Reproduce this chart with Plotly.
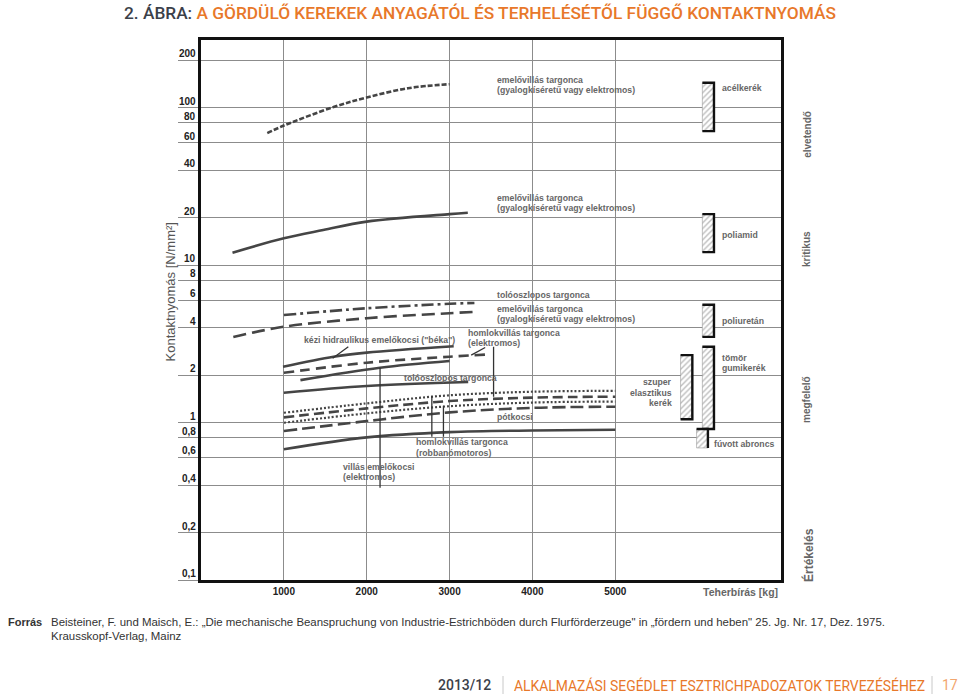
import math
import plotly.graph_objects as go

# ---------------- data ----------------
# curves: load capacity [kg] vs contact pressure [N/mm2]
c1_x = [800, 1000, 1600, 2000, 2500, 3000]
c1_y = [69, 77, 101, 116, 133, 141]          # emelővillás targonca (acélkerék)
c2_x = [380, 1000, 1475, 2000, 3000, 3220]
c2_y = [12.0, 14.8, 16.7, 18.9, 21.1, 21.5]  # emelővillás targonca (poliamid)
c3_x = [1000, 2000, 3000, 3300]
c3_y = [4.82, 5.32, 5.68, 5.75]              # tolóoszlopos targonca
c4_x = [390, 1000, 2000, 3000, 3300]
c4_y = [3.5, 4.06, 4.6, 4.95, 5.05]          # emelővillás targonca (poliuretán)
c5_x = [990, 1600, 2000, 3050]
c5_y = [2.26, 2.62, 2.78, 3.05]              # kézi hidraulikus emelőkocsi
c6_x = [1000, 2000, 3000, 3430]
c6_y = [2.07, 2.40, 2.62, 2.70]              # homlokvillás targonca (elektromos)
c7_x = [1200, 2160, 3000]
c7_y = [1.86, 2.23, 2.46]                    # villás emelőkocsi (elektromos)
c8_x = [1000, 2000, 3225]
c8_y = [1.546, 1.706, 1.81]                  # tolóoszlopos targonca
c9_x = [1000, 2000, 3000, 4000, 5000]
c9_y = [1.154, 1.324, 1.49, 1.57, 1.59]      # homlokvillás (robbanómotoros)
c10_x = [1000, 2000, 3000, 4000, 5000]
c10_y = [1.079, 1.23, 1.37, 1.44, 1.46]      # homlokvillás (elektromos)
c11_x = [1000, 2000, 3000, 4000, 5000]
c11_y = [0.997, 1.144, 1.27, 1.34, 1.36]     # homlokvillás (robbanómotoros)
c12_x = [1000, 2000, 3000, 4000, 5000]
c12_y = [0.883, 1.022, 1.16, 1.24, 1.26]     # pótkocsi
c13_x = [1000, 2000, 3000, 4000, 5000]
c13_y = [0.676, 0.805, 0.87, 0.89, 0.90]     # homlokvillás (robbanómotoros)

# wheel material pressure ranges [N/mm2]
mat_names = ["acélkerék", "poliamid", "poliuretán", "tömör gumikerék",
             "szuper elasztikus kerék", "fúvott abroncs"]
mat_low = [71, 12.1, 3.5, 0.91, 1.05, 0.69]
mat_high = [144, 21.1, 5.6, 3.03, 2.68, 0.91]

y_tick_vals = [200, 100, 80, 60, 40, 20, 10, 8, 6, 4, 2, 1, 0.8, 0.6, 0.4, 0.2, 0.1]
y_tick_text = ["200", "100", "80", "60", "40", "20", "10", "8", "6", "4", "2", "1",
               "0,8", "0,6", "0,4", "0,2", "0,1"]
x_tick_vals = [1000, 2000, 3000, 4000, 5000]
x_tick_text = ["1000", "2000", "3000", "4000", "5000"]

# ---------------- layout helpers ----------------
W, H = 960, 698
L, R, T, B = 201, 781, 40, 580


def PX(px):
    return (px - L) / (R - L)


def PY(py):
    return (B - py) / (B - T)


LINE = "#454545"
GREY_TXT = "#666666"
FONT = "Liberation Sans, Arial, sans-serif"
LBL = 8.7

fig = go.Figure()

curve_styles = [
    (c1_x, c1_y, "5px,2px", 2.6),
    (c2_x, c2_y, "solid", 2.6),
    (c3_x, c3_y, "12px,4px,3px,4px", 2.6),
    (c4_x, c4_y, "13px,6px", 2.6),
    (c5_x, c5_y, "solid", 2.6),
    (c6_x, c6_y, "10px,6px", 2.6),
    (c7_x, c7_y, "solid", 2.6),
    (c8_x, c8_y, "solid", 2.6),
    (c9_x, c9_y, "2px,2px", 2.2),
    (c10_x, c10_y, "10px,5px", 2.6),
    (c11_x, c11_y, "2px,2px", 2.2),
    (c12_x, c12_y, "13px,5px", 2.6),
    (c13_x, c13_y, "solid", 2.6),
]
for xs, ys, dash, w in curve_styles:
    fig.add_trace(go.Scatter(x=xs, y=ys, mode="lines", line_shape="spline",
                             line=dict(color=LINE, width=w, dash=dash),
                             hoverinfo="skip", showlegend=False))

# pointer lines (label leaders)
pointers = [
    ([1778, 1589], [3.03, 2.56]),
    ([2161, 2161], [2.23, 0.385]),
    ([2786, 2786], [0.812, 1.48]),
    ([2926, 2926], [0.812, 1.278]),
    ([3531, 3531], [3.03, 1.458]),
    ([3261, 3430], [2.68, 3.0]),
]
for xs, ys in pointers:
    fig.add_trace(go.Scatter(x=xs, y=ys, mode="lines",
                             line=dict(color="#333", width=1.3),
                             hoverinfo="skip", showlegend=False))

# hatched material bars (x positions are layout only)
mat_x0 = [6051, 6051, 6051, 6051, 5788, 5981]
mat_x1 = [6191, 6191, 6191, 6191, 5930, 6118]
mat_bracket = ["rtb", "rtb", "rtb", "rtb", "rtb", "rt"]
for i in range(len(mat_names)):
    x0, x1, lo, hi = mat_x0[i], mat_x1[i], mat_low[i], mat_high[i]
    fig.add_trace(go.Scatter(
        x=[x0, x1, x1, x0, x0], y=[lo, lo, hi, hi, lo], mode="lines",
        fill="toself", fillcolor="white",
        fillpattern=dict(shape="/", fgcolor="#7a7a7a", bgcolor="white",
                         size=4, solidity=0.35),
        line=dict(color="#999", width=0.6), hoverinfo="skip", showlegend=False))
    if mat_bracket[i] == "rtb":
        bx, by = [x0, x1, x1, x0], [hi, hi, lo, lo]
    else:
        bx, by = [x0, x1, x1], [hi, hi, lo]
    fig.add_trace(go.Scatter(x=bx, y=by, mode="lines",
                             line=dict(color="#111", width=2.4),
                             hoverinfo="skip", showlegend=False))

ann = []


def txt(text, px, py, size=LBL, color=GREY_TXT, bold=True, xanchor="left",
        angle=0, family=FONT):
    ann.append(dict(text=("<b>%s</b>" % text) if bold else text,
                    x=PX(px), y=PY(py), xref="paper", yref="paper",
                    xanchor=xanchor, yanchor="middle", showarrow=False,
                    textangle=angle,
                    font=dict(size=size, color=color, family=family)))


# y tick labels (sit just above their grid lines)
for v, t in zip(y_tick_vals, y_tick_text):
    ann.append(dict(text="<b>%s</b>" % t, x=PX(197.5), y=math.log10(v),
                    xref="paper", yref="y", xanchor="right", yanchor="bottom",
                    yshift=-1, showarrow=False,
                    font=dict(size=10, color="#222", family=FONT)))

# curve labels
txt("emelővillás targonca", 495, 79.5)
txt("(gyalogkíséretű vagy elektromos)", 495, 89.5)
txt("emelővillás targonca", 495, 198.3)
txt("(gyalogkíséretű vagy elektromos)", 495, 207.7)
txt("tolóoszlopos targonca", 495, 294.7)
txt("emelővillás targonca", 495, 309.3)
txt("(gyalogkíséretű vagy elektromos)", 495, 319)
txt("homlokvillás targonca", 466, 333.3)
txt("(elektromos)", 466, 343)
txt('kézi hidraulikus emelőkocsi ("béka")', 301.7, 340)
txt("tolóoszlopos targonca", 401.7, 377.7)
txt("pótkocsi", 495, 417.3)
txt("homlokvillás targonca", 413.5, 442)
txt("(robbanómotoros)", 413.5, 452.5)
txt("villás emelőkocsi", 340.7, 467.3)
txt("(elektromos)", 340.7, 477.3)
txt("szuper", 674.3, 382, xanchor="right")
txt("elasztikus", 674.3, 392.5, xanchor="right")
txt("kerék", 674.3, 402.8, xanchor="right")
txt("acélkerék", 720, 87.7)
txt("poliamid", 720, 235)
txt("poliuretán", 720, 321)
txt("tömör", 720, 358)
txt("gumikerék", 720, 367.7)
txt("fúvott abroncs", 712.3, 444)

# evaluation zone labels
txt("elvetendő", 799.3, 134, size=10, angle=-90)
txt("kritikus", 798.5, 249, size=10, angle=-90)
txt("megfelelő", 798.5, 400, size=10, angle=-90)
txt("Értékelés", 798.5, 555, size=12, angle=-90)

# axis titles
txt("Kontaktnyomás [N/mm²]", 160, 292, size=13, color="#555", bold=False,
    angle=-90)
txt("Teherbírás [kg]", 780, 591.5, size=10.5, color=GREY_TXT, xanchor="right")

# page title
TITLE_FONT = "Roboto, sans-serif"
ann.append(dict(
    text="<span style='color:#3b4049'>2. ÁBRA:</span> A GÖRDÜLŐ KEREKEK ANYAGÁTÓL ÉS TERHELÉSÉTŐL FÜGGŐ KONTAKTNYOMÁS",
    x=PX(122), y=PY(12.5), xref="paper", yref="paper", xanchor="left",
    yanchor="middle", showarrow=False,
    font=dict(size=17.3, color="#e8782a", family=TITLE_FONT, weight=500)))

# source footer
FOOT_FONT = "Liberation Sans, sans-serif"
txt("Forrás", 6, 622, size=11, color="#333", family=FOOT_FONT)
txt("Beisteiner, F. und Maisch, E.: „Die mechanische Beanspruchung von Industrie-Estrichböden "
    "durch Flurförderzeuge\" in „fördern und heben\" 25. Jg. Nr. 17, Dez. 1975.",
    49, 622, size=11.45, color="#333", bold=False, family=FOOT_FONT)
txt("Krausskopf-Verlag, Mainz", 49, 636, size=11.45, color="#333", bold=False,
    family=FOOT_FONT)

# page footer
ann.append(dict(text="2013/12", x=PX(436), y=PY(685), xref="paper", yref="paper",
                xanchor="left", yanchor="middle", showarrow=False,
                font=dict(size=14, color="#3b4049", family=TITLE_FONT, weight=500)))
ann.append(dict(text="ALKALMAZÁSI SEGÉDLET ESZTRICHPADOZATOK TERVEZÉSÉHEZ",
                x=PX(512), y=PY(685), xref="paper", yref="paper",
                xanchor="left", yanchor="middle", showarrow=False,
                font=dict(size=13.9, color="#e8782a", family=TITLE_FONT, weight=400)))
ann.append(dict(text="17", x=PX(940), y=PY(685), xref="paper", yref="paper",
                xanchor="left", yanchor="middle", showarrow=False,
                font=dict(size=14, color="#f2a66e", family=TITLE_FONT)))

shapes = [
    dict(type="line", xref="paper", yref="paper", x0=PX(503), x1=PX(503),
         y0=PY(676), y1=PY(694), line=dict(color="#c8c8c8", width=1)),
    dict(type="line", xref="paper", yref="paper", x0=PX(932), x1=PX(932),
         y0=PY(676), y1=PY(694), line=dict(color="#c8c8c8", width=1)),
]

fig.update_layout(
    width=W, height=H,
    margin=dict(l=L, r=W - R, t=T, b=H - B, pad=0),
    paper_bgcolor="white", plot_bgcolor="white",
    showlegend=False,
    annotations=ann, shapes=shapes,
    xaxis=dict(range=[0, 7000], tickvals=x_tick_vals, ticktext=x_tick_text,
               showgrid=True, gridcolor="#8c8c8c", gridwidth=1,
               showline=True, linecolor="#111", linewidth=2.5, mirror=True,
               ticks="", zeroline=False,
               tickfont=dict(size=10, color="#222", family=FONT, weight="bold")),
    yaxis=dict(type="log", range=[-1, 2.43], tickvals=y_tick_vals,
               showticklabels=False, showgrid=True, gridcolor="#8c8c8c",
               gridwidth=1, showline=True, linecolor="#111", linewidth=2.5,
               mirror=True, ticks="outside", ticklen=20, tickcolor="#8c8c8c",
               tickwidth=1, zeroline=False),
)

fig.write_html("out.html")
